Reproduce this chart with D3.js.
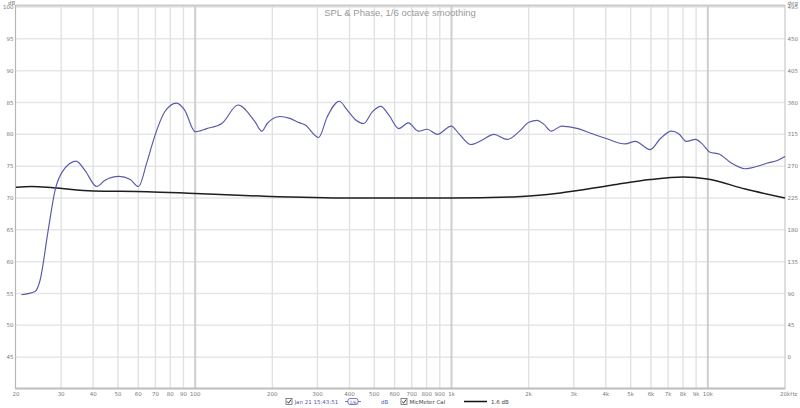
<!DOCTYPE html>
<html><head><meta charset="utf-8">
<script src="https://cdn.jsdelivr.net/npm/d3@7"></script>
<style>html,body{margin:0;padding:0;background:#fff;}svg{display:block;font-family:"DejaVu Sans",sans-serif;}</style>
</head><body><svg id="c" width="800" height="408"></svg>
<script>
const splFreq = [21,23.7,24.8,26.7,28.4,30.3,34.3,37.2,41.3,44.5,50.4,55.8,60.1,64.6,69.4,76,84.6,91,100,111,127,147,171,182,191,214,234,256,268,303,327,365,392,422,455,490,530,570,623,678,745,803,880,998,1069,1188,1318,1464,1649,1843,2003,2160,2290,2450,2690,3120,3470,4040,4760,5210,5960,6520,7210,7700,8250,8950,9500,10200,11070,12340,13960,15350,17100,18680,20000];
const splDb = [54.8,55.3,57,64.9,71.2,74.1,75.8,74.3,71.8,72.8,73.4,72.9,71.8,75.4,79.6,83.5,84.9,83.8,80.4,80.9,81.7,84.6,82.0,80.5,81.7,82.8,82.5,81.8,81.5,79.5,82.7,85.2,83.8,82.3,81.7,83.5,84.4,83.0,80.9,81.8,80.5,80.8,80.0,81.3,80.1,78.4,79.1,80.0,79.2,80.5,81.9,82.2,81.6,80.5,81.3,80.9,80.2,79.3,78.5,78.9,77.6,79.3,80.5,80.1,78.9,79.2,78.5,77.2,76.9,75.5,74.6,74.9,75.5,75.9,76.5];
const calFreq = [20,23,28,40,65,100,180,400,1000,1800,2660,4200,5960,8000,9950,14000,20000];
const calDb = [71.7,71.8,71.6,71.1,71.0,70.7,70.3,70.0,70.0,70.2,70.8,72.0,72.9,73.3,73.0,71.4,70.0];
const dbTicks = [45,50,55,60,65,70,75,80,85,90,95,100];
const degTicks = [0,45,90,135,180,225,270,315,360,405,450,495];
const freqTicks = [20,30,40,50,60,70,80,90,100,200,300,400,500,600,700,800,900,1000,2000,3000,4000,5000,6000,7000,8000,9000,10000,20000];
const freqLabels = ["20","30","40","50","60","70","80","90","100","200","300","400","500","600","700","800","900","1k","2k","3k","4k","5k","6k","7k","8k","9k","10k","20kHz"];
const title = "SPL & Phase, 1/6 octave smoothing";

const svg = d3.select("#c");
const L = 16, R = 785, T = 7, B = 389;
const x = d3.scaleLog().domain([20,20000]).range([L,R]);
const y = d3.scaleLinear().domain([40,100]).range([B,T]);
const yDeg = d3.scaleLinear().domain([-45,495]).range([B,T]);
const LBL = "#7a7a7a";
const BLUE = "#5858ac";

// horizontal grid
svg.append("g").selectAll("line").data(dbTicks).join("line")
  .attr("x1",L).attr("x2",R).attr("y1",d=>y(d)).attr("y2",d=>y(d))
  .attr("stroke","#e6e6e6").attr("stroke-width",1.5);
// vertical grid
svg.append("g").selectAll("line").data(freqTicks.slice(1,-1)).join("line")
  .attr("x1",d=>x(d)).attr("x2",d=>x(d)).attr("y1",T-1).attr("y2",B-1)
  .attr("stroke",d=>(d===100||d===1000||d===10000)?"#cfcfcf":"#e2e2e2")
  .attr("stroke-width",d=>(d===100||d===1000||d===10000)?2:1.4);

// frame
svg.append("line").attr("x1",L).attr("x2",R).attr("y1",T-1.5).attr("y2",T-1.5).attr("stroke","#cccccc").attr("stroke-width",2);
svg.append("line").attr("x1",L-0.5).attr("x2",L-0.5).attr("y1",T-2).attr("y2",B).attr("stroke","#b5b5b5").attr("stroke-width",1.2);
svg.append("line").attr("x1",R).attr("x2",R).attr("y1",T-2).attr("y2",B).attr("stroke","#c8c8c8").attr("stroke-width",1.2);
svg.append("line").attr("x1",L-1).attr("x2",R).attr("y1",B-0.5).attr("y2",B-0.5).attr("stroke","#bdbdbd").attr("stroke-width",2);

// axes labels
const ax = svg.append("g").attr("fill",LBL).attr("font-size","5.5px");
dbTicks.forEach(d=>{
  ax.append("text").attr("x",13.5).attr("y",y(d)+2).attr("text-anchor","end").text(d);
});
ax.append("text").attr("x",8).attr("y",4.5).text("dB");
degTicks.forEach(d=>{
  ax.append("text").attr("x",787.5).attr("y",yDeg(d)+2).text(d);
});
ax.append("text").attr("x",787.5).attr("y",4.5).text("deg");
freqTicks.forEach((f,i)=>{
  const last = i===freqTicks.length-1;
  ax.append("text").attr("x",last? x(f)-5 : x(f)).attr("y",395.5)
    .attr("text-anchor",last?"start":"middle").text(freqLabels[i]);
});

// title
svg.append("text").attr("x",400).attr("y",16).attr("text-anchor","middle")
  .attr("fill","#9a9a9a").attr("font-size","9.5px").attr("font-family","Liberation Sans, Arial, sans-serif").text(title);

// lines
const lineGen = d3.line().x(d=>x(d[0])).y(d=>y(d[1])).curve(d3.curveMonotoneX);
svg.append("path").datum(calFreq.map((f,i)=>[f,calDb[i]]))
  .attr("d",lineGen).attr("fill","none").attr("stroke","#1e1e1e").attr("stroke-width",1.5);
svg.append("path").datum(splFreq.map((f,i)=>[f,splDb[i]]))
  .attr("d",lineGen).attr("fill","none").attr("stroke",BLUE).attr("stroke-width",1.15);

// legend
const lg = svg.append("g").attr("font-size","5.5px");
function checkbox(cx){
  lg.append("rect").attr("x",cx).attr("y",398.5).attr("width",6).attr("height",6).attr("fill","#fff").attr("stroke","#666").attr("stroke-width",0.8);
  lg.append("path").attr("d",`M${cx+1.2},${401.5} L${cx+2.6},${403.2} L${cx+5},${399.6}`).attr("fill","none").attr("stroke","#333").attr("stroke-width",1);
}
checkbox(286);
lg.append("text").attr("x",294.5).attr("y",403.8).attr("fill",BLUE).text("Jan 21 15:43:51");
lg.append("rect").attr("x",348).attr("y",398.5).attr("width",10).attr("height",6).attr("rx",2).attr("fill","#fff").attr("stroke",BLUE).attr("stroke-width",0.8);
lg.append("line").attr("x1",345).attr("x2",348).attr("y1",401.5).attr("y2",401.5).attr("stroke",BLUE).attr("stroke-width",0.8);
lg.append("line").attr("x1",358).attr("x2",361).attr("y1",401.5).attr("y2",401.5).attr("stroke",BLUE).attr("stroke-width",0.8);
lg.append("text").attr("x",353).attr("y",403.5).attr("text-anchor","middle").attr("fill",BLUE).attr("font-size","4.5px").text("1/6");
lg.append("text").attr("x",381).attr("y",403.8).attr("fill",BLUE).text("dB");
checkbox(401);
lg.append("text").attr("x",409.5).attr("y",403.8).attr("fill","#444").text("MicMeter Cal");
lg.append("line").attr("x1",464).attr("x2",487).attr("y1",401.5).attr("y2",401.5).attr("stroke","#111").attr("stroke-width",1.5);
lg.append("text").attr("x",491).attr("y",403.8).attr("fill","#444").text("1.6 dB");
</script></body></html>
